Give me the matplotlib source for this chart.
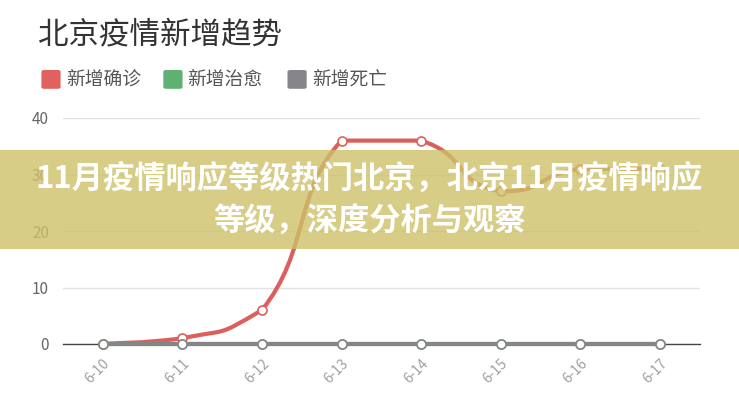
import numpy as np
import matplotlib
matplotlib.use('Agg')
import matplotlib.pyplot as plt
from matplotlib.path import Path
from matplotlib.patches import PathPatch, Rectangle, FancyBboxPatch

plt.rcParams['font.family'] = ['Noto Sans CJK SC', 'DejaVu Sans']

# data
dates = ['6-10', '6-11', '6-12', '6-13', '6-14', '6-15', '6-16', '6-17']
confirmed = [0, 1, 6, 36, 36, 27, 31, 31]
cured = [0, 0, 0, 0, 0, 0, 0, 0]
deaths = [0, 0, 0, 0, 0, 0, 0, 0]
series_names = ['新增确诊', '新增治愈', '新增死亡']
series_colors = ['#e0625f', '#5eb173', '#86868a']
line_colors = ['#dc5f5c', '#5eb173', '#858585']

title = '北京疫情新增趋势'
banner_text = '11月疫情响应等级热门北京，北京11月疫情响应\n等级，深度分析与观察'


def smooth_path(xs, ys, s=0.3):
    # bezier curve through the points, control points kept inside each segment
    xs = np.asarray(xs, float)
    ys = np.asarray(ys, float)
    n = len(xs)
    verts = [(xs[0], ys[0])]
    codes = [Path.MOVETO]
    for i in range(n - 1):
        p0 = np.array([xs[max(i - 1, 0)], ys[max(i - 1, 0)]])
        p1 = np.array([xs[i], ys[i]])
        p2 = np.array([xs[i + 1], ys[i + 1]])
        p3 = np.array([xs[min(i + 2, n - 1)], ys[min(i + 2, n - 1)]])
        c1 = p1 + (p2 - p0) * s
        c2 = p2 - (p3 - p1) * s
        lo, hi = min(p1[1], p2[1]), max(p1[1], p2[1])
        c1[1] = min(max(c1[1], lo), hi)
        c2[1] = min(max(c2[1], lo), hi)
        verts += [tuple(c1), tuple(c2), tuple(p2)]
        codes += [Path.CURVE4] * 3
    return Path(verts, codes)


fig = plt.figure(figsize=(7.39, 4.0), dpi=100)
ax = fig.add_axes([0.085, 0.14, 0.862, 0.565])

x = np.arange(len(dates))
for vals, lc in [(confirmed, line_colors[0]), (cured, line_colors[1]), (deaths, line_colors[2])]:
    ax.add_patch(PathPatch(smooth_path(x, vals), fill=False, edgecolor=lc,
                           lw=3, capstyle='round', zorder=3, clip_on=False))
    ax.plot(x, vals, ls='none', marker='o', ms=6.5, mfc='white', mec=lc,
            mew=1.2, zorder=4, clip_on=False)

ax.set_xlim(-0.5, len(dates) - 0.5)
ax.set_ylim(0, 40)
ax.set_yticks([0, 10, 20, 30, 40])
ax.set_xticks(x)
ax.set_xticklabels(dates, rotation=45, ha='right', rotation_mode='anchor',
                   color='#a0a0a0', fontsize=10)
ax.tick_params(axis='y', colors='#666666', labelsize=11, length=0, pad=10)
ax.tick_params(axis='x', length=0, pad=9)
ax.grid(axis='y', color='#e3e3e3', lw=1)
ax.set_axisbelow(True)
for sp in ['top', 'right', 'left']:
    ax.spines[sp].set_visible(False)
ax.spines['bottom'].set_color('#444444')
ax.spines['bottom'].set_linewidth(1)

# title and legend
fig.text(0.052, 0.912, title, fontsize=22, color='#333333', va='center')
leg_x = [0.056, 0.221, 0.389]
for lx, name, c in zip(leg_x, series_names, series_colors):
    fig.patches.append(FancyBboxPatch((lx, 0.778), 0.026, 0.047,
                                      boxstyle='round,pad=0,rounding_size=0.004',
                                      transform=fig.transFigure, fc=c, ec='none'))
    fig.text(lx + 0.033, 0.802, name, fontsize=13.5, color='#555555', va='center')

# banner overlay
fig.patches.append(Rectangle((0, 0.378), 1, 0.247, transform=fig.transFigure,
                             fc='#cdc168', ec='none', alpha=0.8, zorder=10))
fig.text(0.5, 0.499, banner_text, ha='center', va='center', fontsize=22.5,
         fontweight='bold', color='white', linespacing=1.42, zorder=11)

plt.savefig('out.png', dpi=100)
